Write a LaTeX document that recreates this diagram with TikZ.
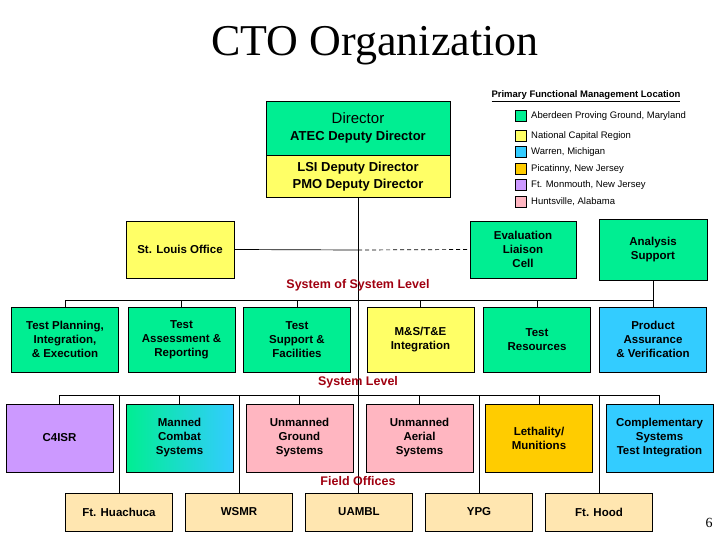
\documentclass[tikz,border=0pt]{standalone}
\usepackage{fontspec}
\setmainfont{Liberation Sans}
\newfontfamily\serifT{Liberation Serif}
\definecolor{cgreen}{HTML}{00EE92}
\definecolor{cyellow}{HTML}{FFFF66}
\definecolor{cblue}{HTML}{33CCFF}
\definecolor{corange}{HTML}{FFCC00}
\definecolor{cpurple}{HTML}{CC99FF}
\definecolor{cpink}{HTML}{FFB6C1}
\definecolor{ctan}{HTML}{FFE6B0}
\definecolor{cred}{HTML}{A00010}
\begin{document}
\begin{tikzpicture}[x=1pt,y=-1pt,
 bx/.style={draw=black,line width=0.6pt,minimum width=107pt,align=center,font=\fontsize{11.5}{14}\selectfont\bfseries,inner sep=1pt},
 r1/.style={bx,minimum height=65pt},
 r2/.style={bx,minimum height=68pt},
 fo/.style={bx,fill=ctan,minimum height=38pt,font=\fontsize{11.5}{13}\selectfont\bfseries},
 lvl/.style={text=cred,font=\fontsize{12.5}{14}\selectfont\bfseries},
 sw/.style={draw=black,line width=0.4pt,minimum size=11pt,inner sep=0pt},
 lg/.style={anchor=west,font=\fontsize{9.5}{11}\selectfont,inner sep=0pt},
 ln/.style={line width=0.7pt}]
\useasboundingbox (0,0) rectangle (720,540);
\node[font=\serifT\fontsize{44}{48}\selectfont] (title) at (375,46) {CTO Organization};
\node[font=\fontsize{9.5}{11}\selectfont\bfseries] (lgt) at (586,96) {\underline{Primary Functional Management Location}};
\foreach \c/\t/\y [count=\i] in {cgreen/{Aberdeen Proving Ground, Maryland}/116, cyellow/{National Capital Region}/136, cblue/{Warren, Michigan}/152, corange/{Picatinny, New Jersey}/169, cpurple/{Ft. Monmouth, New Jersey}/185, cpink/{Huntsville, Alabama}/202}{
 \node[sw,fill=\c] (s\i) at (521,\y) {};
 \node[lg] (l\i) at (531,\y) {\t};
}
% director
\node[draw,fill=cgreen,minimum width=184pt,minimum height=54pt,anchor=north,align=center,inner sep=0pt,line width=0.6pt] (dir) at (358,101) {{\fontsize{15}{18}\selectfont Director}\\[5pt]{\fontsize{13}{16}\selectfont\bfseries ATEC Deputy Director}};
\node[draw,fill=cyellow,minimum width=184pt,minimum height=42pt,anchor=north,align=center,inner sep=0pt,line width=0.6pt,font=\fontsize{13}{17}\selectfont\bfseries] (lsi) at (358,155) {LSI Deputy Director\\PMO Deputy Director};
\node[bx,fill=cyellow,minimum height=57pt,minimum width=108pt] (stl) at (180,249.5) {St. Louis Office};
\node[bx,fill=cgreen,minimum height=57pt,minimum width=106pt] (elc) at (523,249.5) {Evaluation\\Liaison\\Cell};
\node[bx,fill=cgreen,minimum height=61pt,minimum width=108pt] (ana) at (653,249.5) {Analysis\\Support};
\coordinate (hub) at (358,250);
\draw[ln] (lsi.south) -- (358,493);
\draw[ln] (stl.east) -- (hub);
\draw[ln,dash pattern=on 4pt off 3pt] (hub) -- (elc.west);
\node[lvl] (sosl) at (358,285) {System of System Level};
% row 1
\node[r1,fill=cgreen] (a1) at (65,339.5) {Test Planning,\\Integration,\\\& Execution};
\node[r1,fill=cgreen] (a2) at (181.5,339.5) {Test\\Assessment \&\\Reporting};
\node[r1,fill=cgreen] (a3) at (297,339.5) {Test\\Support \&\\Facilities};
\node[r1,fill=cyellow] (a4) at (420.5,339.5) {M\&S/T\&E\\Integration};
\node[r1,fill=cgreen] (a5) at (537,339.5) {Test\\Resources};
\node[r1,fill=cblue] (a6) at (653,339.5) {Product\\Assurance\\\& Verification};
\draw[ln] (a1.north) |- (653,300) -- (ana.south);
\foreach \i in {2,...,6} \draw[ln] (a\i.north) -- (a\i.north |- 0,300);
\node[lvl] (syl) at (358,382) {System Level};
% row 2
\node[r2,fill=cpurple] (b1) at (59.5,438) {C4ISR};
\node[r2,left color=cgreen,right color=cblue] (b2) at (179.5,438) {Manned\\Combat\\Systems};
\node[r2,fill=cpink] (b3) at (299.5,438) {Unmanned\\Ground\\Systems};
\node[r2,fill=cpink] (b4) at (419.5,438) {Unmanned\\Aerial\\Systems};
\node[r2,fill=corange] (b5) at (539,438) {Lethality/\\Munitions};
\node[r2,fill=cblue] (b6) at (659.5,438) {Complementary\\Systems\\Test Integration};
\draw[ln] (b1.north) |- (b6.north |- 0,395) -- (b6.north);
\foreach \i in {2,...,5} \draw[ln] (b\i.north) -- (b\i.north |- 0,395);
\node[lvl] (fol) at (358,481) {Field Offices};
% field offices
\node[fo] (f1) at (119,512) {Ft. Huachuca};
\node[fo] (f2) at (239,512) {WSMR};
\node[fo] (f3) at (359,512) {UAMBL};
\node[fo] (f4) at (479,512) {YPG};
\node[fo] (f5) at (599,512) {Ft. Hood};
\foreach \i in {1,2,4,5} \draw[ln] (f\i.north) -- (f\i.north |- 0,395);
\node[font=\serifT\fontsize{14}{16}\selectfont] (pg) at (709,523) {6};
\end{tikzpicture}
\end{document}
